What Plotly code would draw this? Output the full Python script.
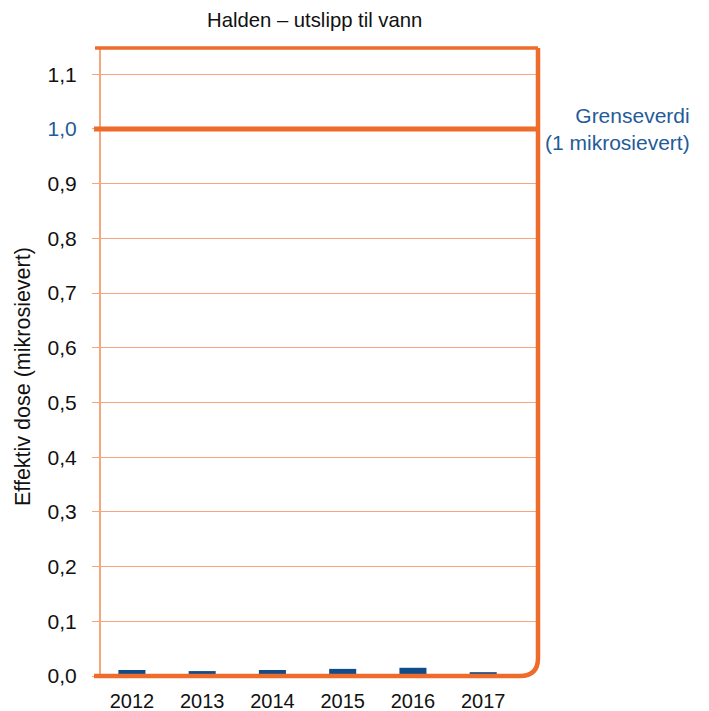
import plotly.graph_objects as go

years = ["2012", "2013", "2014", "2015", "2016", "2017"]
dose = [0.011, 0.009, 0.011, 0.013, 0.015, 0.007]
ytick_vals = [0.0, 0.1, 0.2, 0.3, 0.4, 0.5, 0.6, 0.7, 0.8, 0.9, 1.0, 1.1]
ytick_text = ["0,0", "0,1", "0,2", "0,3", "0,4", "0,5", "0,6", "0,7", "0,8", "0,9",
              "<span style='color:#1F5C99'>1,0</span>", "1,1"]
limit_value = 1.0

ORANGE = "#EF6B2C"
GRID = "#F5A67C"
BLUE = "#0E4D89"
TXTBLUE = "#1F5C99"
FONT = "Liberation Sans, Arial, sans-serif"

W, H = 709, 711
L, R, T, B = 101, 171, 48, 35
pw, ph = W - L - R, H - T - B

fig = go.Figure()
fig.add_trace(go.Bar(x=years, y=dose, marker=dict(color=BLUE, line=dict(width=0)),
                     width=0.385, showlegend=False, hoverinfo="x+y"))

rx = 18 / pw
ry = 18 / ph
shapes = [
    dict(type="line", xref="paper", yref="y", x0=-7 / pw, x1=1, y0=limit_value, y1=limit_value,
         line=dict(color=ORANGE, width=5), layer="above"),
    dict(type="line", xref="paper", yref="paper", x0=-6 / pw, x1=1, y0=1, y1=1,
         line=dict(color=ORANGE, width=3.5), layer="above"),
    dict(type="path", xref="paper", yref="paper",
         path=f"M {-7 / pw},0 L {1 - rx},0 Q 1,0 1,{ry} L 1,1",
         line=dict(color=ORANGE, width=4.5), layer="above"),
]

annotations = [
    dict(text="Grenseverdi<br>(1 mikrosievert)", xref="paper", yref="y",
         x=(692 - L) / pw, y=limit_value, xanchor="right", yanchor="middle", align="right",
         showarrow=False, font=dict(family=FONT, size=21, color=TXTBLUE)),
    dict(text="Effektiv dose (mikrosievert)", xref="paper", yref="paper",
         x=-(L - 23) / pw, y=(H - B - 377) / ph, xanchor="center", yanchor="middle",
         textangle=-90, showarrow=False, font=dict(family=FONT, size=21.5, color="#111111")),
    dict(text="Halden – utslipp til vann", xref="paper", yref="paper",
         x=(314 - L) / pw, y=1 + (T - 20) / ph, xanchor="center", yanchor="middle",
         showarrow=False, font=dict(family=FONT, size=20.3, color="#111111")),
]

fig.update_layout(
    width=W, height=H,
    margin=dict(l=L, r=R, t=T, b=B, pad=0, autoexpand=False),
    paper_bgcolor="white", plot_bgcolor="white",
    font=dict(family=FONT, size=20, color="#111111"),
    shapes=shapes, annotations=annotations,
    xaxis=dict(type="category", range=[-0.44, 5.78], showgrid=False, showline=False,
               zeroline=False, ticks="", tickfont=dict(size=20), ticklabelstandoff=11,
               automargin=False),
    yaxis=dict(range=[0, 1.148], tickvals=ytick_vals, ticktext=ytick_text,
               showgrid=True, gridcolor=GRID, gridwidth=1.2,
               showline=True, linecolor=GRID, linewidth=2,
               zeroline=False, ticks="outside", ticklen=7, tickcolor=GRID, tickwidth=1.2,
               tickfont=dict(size=21), ticklabelstandoff=11, automargin=False),
)

fig.write_html("out.html")
